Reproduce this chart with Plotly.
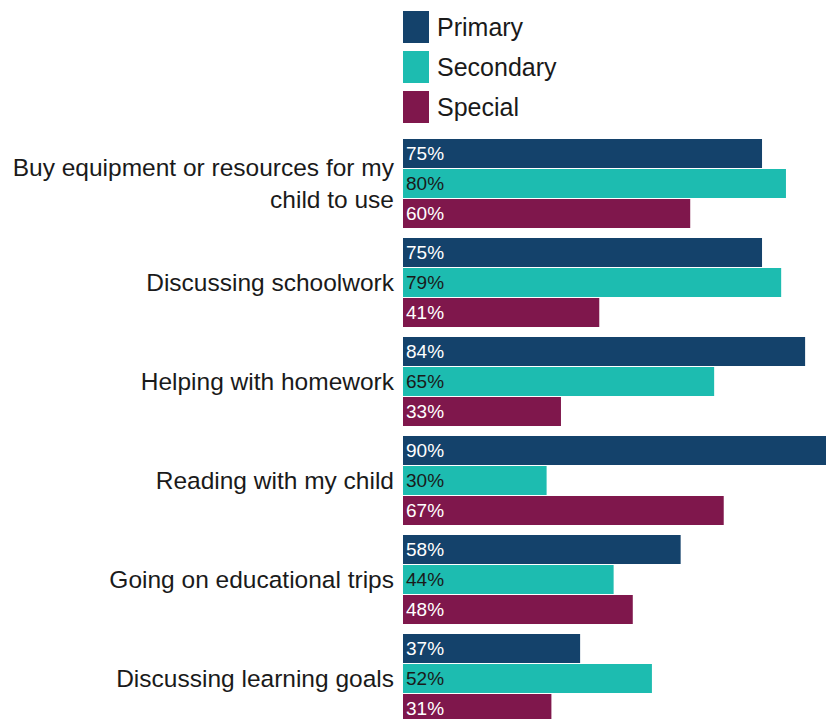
import plotly.graph_objects as go

# Survey data: share of parents doing each activity, by school type
categories = [
    "Buy equipment or resources for my<br>child to use",
    "Discussing schoolwork",
    "Helping with homework",
    "Reading with my child",
    "Going on educational trips",
    "Discussing learning goals",
]
series_names = ["Primary", "Secondary", "Special"]
primary = [75, 75, 84, 90, 58, 37]
secondary = [80, 79, 65, 30, 44, 52]
special = [60, 41, 33, 67, 48, 31]

colors = ["#14426B", "#1DBCB0", "#7F174C"]
text_colors = ["#FFFFFF", "#1A1A1A", "#FFFFFF"]
FONT = "Arial, Liberation Sans, sans-serif"

W, H = 826, 719
M_L, M_T = 403, 134
plot_w, plot_h = W - M_L, H - M_T

fig = go.Figure()
for name, vals, col, tcol in zip(series_names, [primary, secondary, special], colors, text_colors):
    fig.add_trace(go.Bar(
        name=name,
        y=categories,
        x=vals,
        orientation="h",
        marker=dict(color=col, line=dict(width=0)),
        text=[f"{v}%" for v in vals],
        textposition="inside",
        insidetextanchor="start",
        textangle=0,
        constraintext="none",
        textfont=dict(family=FONT, size=19, color=tcol),
        showlegend=False,
    ))

# Custom legend: tall swatches with labels above the plot area
def px_to_paper_x(px):
    return (px - M_L) / plot_w

def px_to_paper_y(py):
    return (H - py) / plot_h

for i, (name, col) in enumerate(zip(series_names, colors)):
    top = 11 + 40 * i
    fig.add_shape(
        type="rect", xref="paper", yref="paper",
        x0=px_to_paper_x(403), x1=px_to_paper_x(429),
        y0=px_to_paper_y(top + 32), y1=px_to_paper_y(top),
        fillcolor=col, line=dict(width=0),
    )
    fig.add_annotation(
        xref="paper", yref="paper",
        x=px_to_paper_x(435), y=px_to_paper_y(top + 16),
        text=name, showarrow=False,
        xanchor="left", yanchor="middle",
        font=dict(family=FONT, size=25, color="#1A1A1A"),
    )

fig.update_layout(
    width=W, height=H,
    margin=dict(l=M_L, r=0, t=M_T, b=0, pad=0),
    barmode="group",
    bargap=0.09,
    bargroupgap=0.033,
    plot_bgcolor="white",
    paper_bgcolor="white",
    xaxis=dict(range=[0, plot_w / 4.787], visible=False, showgrid=False, zeroline=False),
    yaxis=dict(
        categoryorder="array", categoryarray=categories,
        range=[-0.5 + plot_h / 99.0, -0.5],
        showgrid=False, zeroline=False, showline=False,
        ticks="", ticklabelstandoff=8, automargin=False,
        tickfont=dict(family=FONT, size=24.5, color="#1A1A1A"),
    ),
)

fig.write_html("out.html")
